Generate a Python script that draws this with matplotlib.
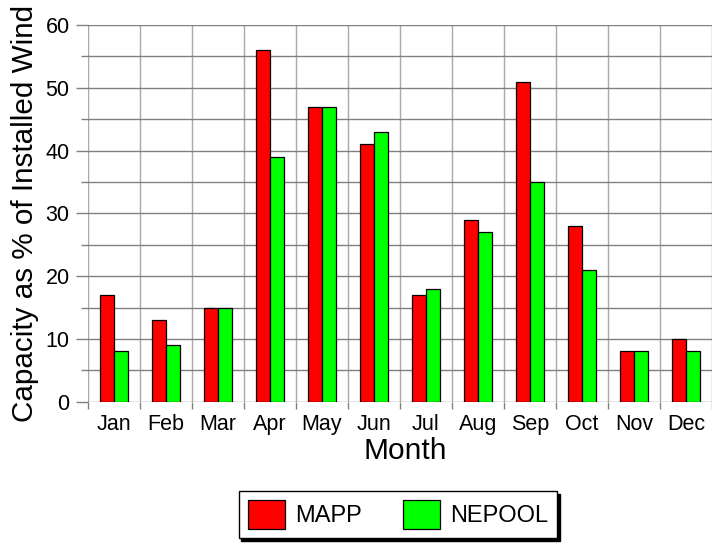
import matplotlib
matplotlib.use("Agg")
import matplotlib.pyplot as plt
import numpy as np

months = ["Jan", "Feb", "Mar", "Apr", "May", "Jun", "Jul", "Aug", "Sep", "Oct", "Nov", "Dec"]
mapp = [17, 13, 15, 56, 47, 41, 17, 29, 51, 28, 8, 10]
nepool = [8, 9, 15, 39, 47, 43, 18, 27, 35, 21, 8, 8]

plt.rcParams['font.family'] = ['Liberation Sans', 'DejaVu Sans']

fig = plt.figure(figsize=(7.12, 5.45), dpi=100)
ax = fig.add_axes([0.123, 0.263, 0.877, 0.691])

x = np.arange(len(months))
w = 0.27
ax.bar(x - w / 2, mapp, w, color='#ff0000', edgecolor='black', linewidth=0.9, label='MAPP', zorder=3)
ax.bar(x + w / 2, nepool, w, color='#00ff00', edgecolor='black', linewidth=0.9, label='NEPOOL', zorder=3)

ax.set_xlim(-0.5, len(months) - 0.5)
ax.set_ylim(0, 60)
ax.set_yticks(np.arange(0, 61, 10))
ax.set_yticks(np.arange(5, 60, 10), minor=True)
ax.set_xticks(x)
ax.set_xticklabels(months)
ax.set_xticks(np.arange(-0.5, len(months) - 0.4, 1), minor=True)

for s in ax.spines.values():
    s.set_visible(False)

ax.grid(axis='y', which='both', color='#808080', linewidth=1.0, zorder=0)
ax.grid(axis='x', which='minor', color='#a8a8a8', linewidth=1.0, zorder=0)

ax.tick_params(axis='x', which='major', length=0, labelsize=15.5, pad=9)
ax.tick_params(axis='x', which='minor', length=5, color='#808080', width=1)
ax.tick_params(axis='y', which='major', length=9, color='#808080', width=1, labelsize=15.5, pad=4)
ax.tick_params(axis='y', which='minor', length=5, color='#808080', width=1)

fig.text(0.569, 0.1725, 'Month', fontsize=21.5, ha='center', va='center')
fig.text(0.0358, 0.609, 'Capacity as % of Installed Wind', fontsize=21.3,
         rotation=90, ha='center', va='center')

fig.legend(loc='center', bbox_to_anchor=(0.559, 0.056), ncol=2, fontsize=17,
           frameon=True, fancybox=False, edgecolor='black', framealpha=1,
           shadow={'color': 'black', 'alpha': 1},
           handlelength=1.57, handleheight=1.48, columnspacing=1.74, handletextpad=0.42,
           borderpad=0.4)

fig.savefig('out.png', dpi=100)
